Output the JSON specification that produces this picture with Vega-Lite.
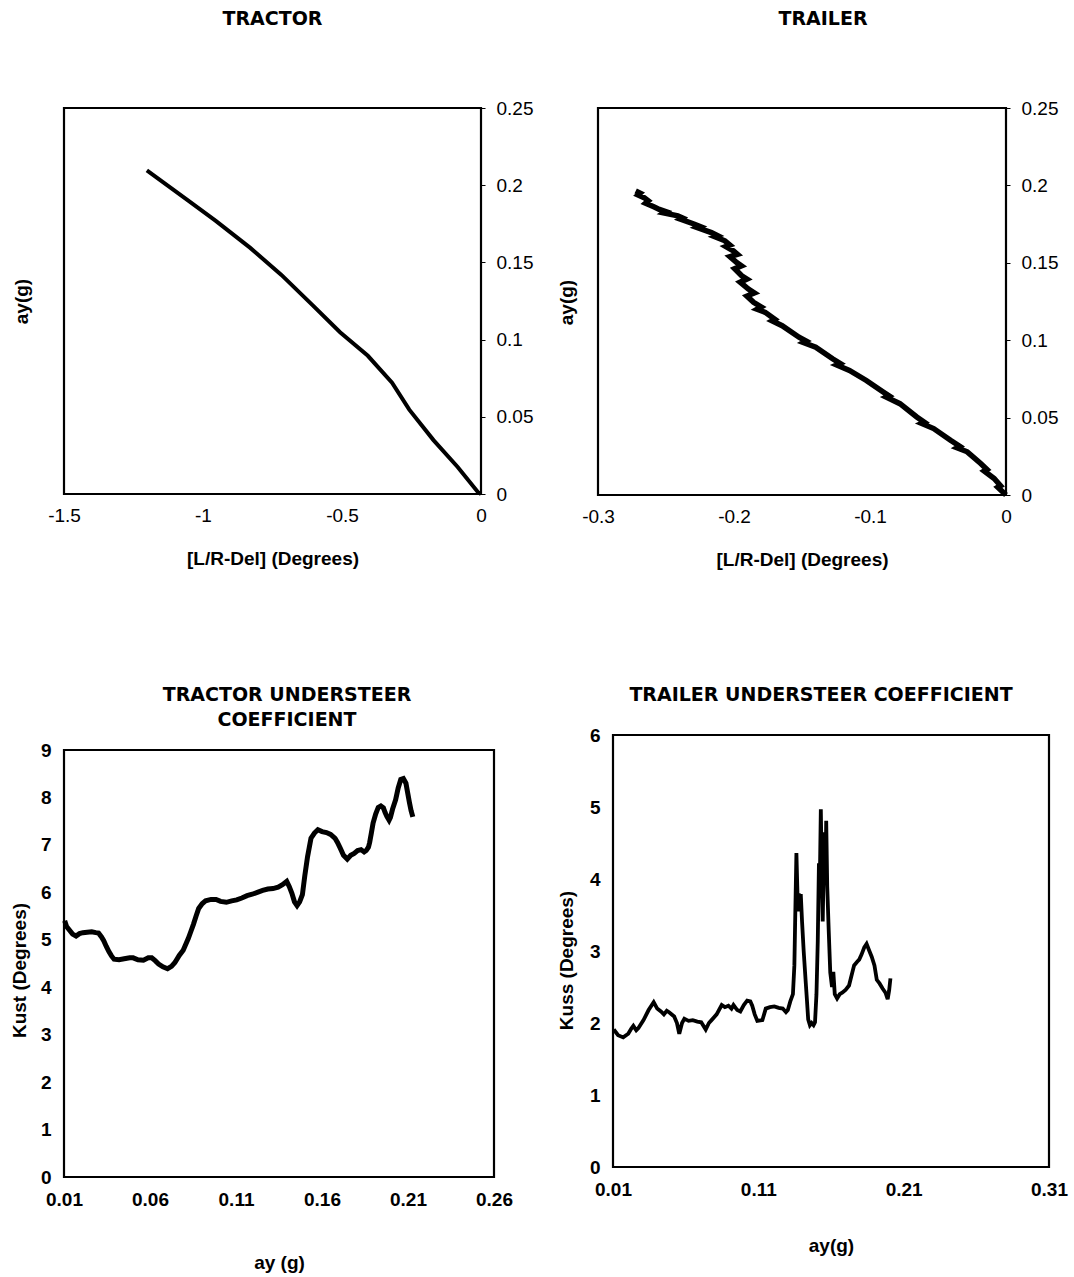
{
  "$schema": "https://vega.github.io/schema/vega-lite/v6.json",
  "background": "white",
  "padding": {"left": 8, "top": 8, "right": 0, "bottom": 0},
  "config": {
    "view": {"stroke": "black", "strokeWidth": 2.2},
    "font": "Liberation Sans",
    "axis": {
      "grid": false, "domain": false, "ticks": false,
      "labelFont": "Liberation Sans", "labelFontSize": 19, "labelColor": "black",
      "labelFlush": false, "labelOverlap": false,
      "titleFont": "Liberation Sans", "titleFontSize": 19, "titleFontWeight": "bold", "titleColor": "black"
    },
    "title": {"font": "DejaVu Sans", "fontSize": 19, "fontWeight": "bold", "color": "black", "anchor": "middle", "frame": "group"},
    "line": {"color": "black"}
  },
  "datasets": {
    "tractor": [
      {"del": -1.202, "ay": 0.2096}, {"del": -1.053, "ay": 0.190}, {"del": -0.954, "ay": 0.1769},
      {"del": -0.830, "ay": 0.1594}, {"del": -0.718, "ay": 0.1419}, {"del": -0.606, "ay": 0.1223},
      {"del": -0.507, "ay": 0.1048}, {"del": -0.407, "ay": 0.0895}, {"del": -0.320, "ay": 0.0721},
      {"del": -0.258, "ay": 0.0546}, {"del": -0.171, "ay": 0.0349}, {"del": -0.084, "ay": 0.0175},
      {"del": -0.010, "ay": 0.001}, {"del": 0, "ay": 0}
    ],
    "trailer": [
      {"i": 1, "del": -0.2723, "ay": 0.1964}, {"i": 2, "del": -0.2690, "ay": 0.1950}, {"i": 3, "del": -0.2705, "ay": 0.1938},
      {"i": 4, "del": -0.2661, "ay": 0.1921}, {"i": 5, "del": -0.2630, "ay": 0.1900}, {"i": 6, "del": -0.2650, "ay": 0.1885},
      {"i": 7, "del": -0.2590, "ay": 0.1862}, {"i": 8, "del": -0.2549, "ay": 0.1845}, {"i": 9, "del": -0.2500, "ay": 0.1830},
      {"i": 10, "del": -0.2515, "ay": 0.1822}, {"i": 11, "del": -0.2413, "ay": 0.1803}, {"i": 12, "del": -0.2380, "ay": 0.1790},
      {"i": 13, "del": -0.2395, "ay": 0.1782}, {"i": 14, "del": -0.2290, "ay": 0.1749}, {"i": 15, "del": -0.2250, "ay": 0.1735},
      {"i": 16, "del": -0.2270, "ay": 0.1728}, {"i": 17, "del": -0.2166, "ay": 0.1695}, {"i": 18, "del": -0.2120, "ay": 0.1675},
      {"i": 19, "del": -0.2140, "ay": 0.1668}, {"i": 20, "del": -0.2067, "ay": 0.1642}, {"i": 21, "del": -0.2030, "ay": 0.1615},
      {"i": 22, "del": -0.2060, "ay": 0.1605}, {"i": 23, "del": -0.2005, "ay": 0.1577}, {"i": 24, "del": -0.1975, "ay": 0.1555},
      {"i": 25, "del": -0.2030, "ay": 0.1540}, {"i": 26, "del": -0.1980, "ay": 0.1502}, {"i": 27, "del": -0.1945, "ay": 0.1480},
      {"i": 28, "del": -0.1995, "ay": 0.1462}, {"i": 29, "del": -0.1943, "ay": 0.1416}, {"i": 30, "del": -0.1905, "ay": 0.1395},
      {"i": 31, "del": -0.1955, "ay": 0.1375}, {"i": 32, "del": -0.1894, "ay": 0.1330}, {"i": 33, "del": -0.1850, "ay": 0.1305},
      {"i": 34, "del": -0.1905, "ay": 0.1285}, {"i": 35, "del": -0.1856, "ay": 0.1245}, {"i": 36, "del": -0.1800, "ay": 0.1215},
      {"i": 37, "del": -0.1830, "ay": 0.1200}, {"i": 38, "del": -0.1770, "ay": 0.1180}, {"i": 39, "del": -0.1700, "ay": 0.1135},
      {"i": 40, "del": -0.1720, "ay": 0.1125}, {"i": 41, "del": -0.1646, "ay": 0.1094}, {"i": 42, "del": -0.1522, "ay": 0.1019},
      {"i": 43, "del": -0.1470, "ay": 0.0995}, {"i": 44, "del": -0.1490, "ay": 0.0985}, {"i": 45, "del": -0.1399, "ay": 0.0955},
      {"i": 46, "del": -0.1275, "ay": 0.0880}, {"i": 47, "del": -0.1220, "ay": 0.0850}, {"i": 48, "del": -0.1245, "ay": 0.0840},
      {"i": 49, "del": -0.1151, "ay": 0.0805}, {"i": 50, "del": -0.1027, "ay": 0.0740}, {"i": 51, "del": -0.0903, "ay": 0.0665},
      {"i": 52, "del": -0.0860, "ay": 0.0640}, {"i": 53, "del": -0.0880, "ay": 0.0632}, {"i": 54, "del": -0.0780, "ay": 0.0590},
      {"i": 55, "del": -0.0656, "ay": 0.0504}, {"i": 56, "del": -0.0600, "ay": 0.0470}, {"i": 57, "del": -0.0620, "ay": 0.0462},
      {"i": 58, "del": -0.0532, "ay": 0.0429}, {"i": 59, "del": -0.0408, "ay": 0.0354}, {"i": 60, "del": -0.0340, "ay": 0.0315},
      {"i": 61, "del": -0.0360, "ay": 0.0305}, {"i": 62, "del": -0.0285, "ay": 0.0279}, {"i": 63, "del": -0.0186, "ay": 0.0204},
      {"i": 64, "del": -0.0140, "ay": 0.0165}, {"i": 65, "del": -0.0160, "ay": 0.0155}, {"i": 66, "del": -0.0087, "ay": 0.0107},
      {"i": 67, "del": -0.0040, "ay": 0.0060}, {"i": 68, "del": -0.0060, "ay": 0.0050}, {"i": 69, "del": -0.0025, "ay": 0.0021},
      {"i": 70, "del": 0, "ay": 0}
    ],
    "kust": [
      {"ay": 0.0104, "k": 5.40}, {"ay": 0.0115, "k": 5.28}, {"ay": 0.0130, "k": 5.21}, {"ay": 0.0150, "k": 5.12},
      {"ay": 0.0170, "k": 5.08}, {"ay": 0.0190, "k": 5.13}, {"ay": 0.0210, "k": 5.15}, {"ay": 0.0235, "k": 5.16},
      {"ay": 0.0261, "k": 5.17}, {"ay": 0.0285, "k": 5.15}, {"ay": 0.0301, "k": 5.14}, {"ay": 0.0318, "k": 5.06},
      {"ay": 0.0331, "k": 4.98}, {"ay": 0.0346, "k": 4.86}, {"ay": 0.0361, "k": 4.75}, {"ay": 0.0376, "k": 4.66},
      {"ay": 0.0391, "k": 4.59}, {"ay": 0.0420, "k": 4.58}, {"ay": 0.0450, "k": 4.60}, {"ay": 0.0482, "k": 4.62},
      {"ay": 0.0502, "k": 4.62}, {"ay": 0.0530, "k": 4.58}, {"ay": 0.0562, "k": 4.57}, {"ay": 0.0590, "k": 4.62},
      {"ay": 0.0610, "k": 4.62}, {"ay": 0.0630, "k": 4.56}, {"ay": 0.0650, "k": 4.49}, {"ay": 0.0675, "k": 4.43},
      {"ay": 0.0702, "k": 4.39}, {"ay": 0.0725, "k": 4.44}, {"ay": 0.0745, "k": 4.52}, {"ay": 0.0770, "k": 4.67},
      {"ay": 0.0793, "k": 4.78}, {"ay": 0.0810, "k": 4.92}, {"ay": 0.0823, "k": 5.03}, {"ay": 0.0838, "k": 5.18},
      {"ay": 0.0853, "k": 5.33}, {"ay": 0.0868, "k": 5.50}, {"ay": 0.0883, "k": 5.66}, {"ay": 0.0903, "k": 5.76},
      {"ay": 0.0923, "k": 5.82}, {"ay": 0.0955, "k": 5.85}, {"ay": 0.0984, "k": 5.85}, {"ay": 0.1010, "k": 5.81},
      {"ay": 0.1044, "k": 5.79}, {"ay": 0.1075, "k": 5.82}, {"ay": 0.1104, "k": 5.84}, {"ay": 0.1134, "k": 5.88},
      {"ay": 0.1164, "k": 5.93}, {"ay": 0.1194, "k": 5.96}, {"ay": 0.1224, "k": 6.00}, {"ay": 0.1255, "k": 6.04},
      {"ay": 0.1285, "k": 6.07}, {"ay": 0.1315, "k": 6.08}, {"ay": 0.1345, "k": 6.11}, {"ay": 0.1370, "k": 6.16},
      {"ay": 0.1395, "k": 6.23}, {"ay": 0.1410, "k": 6.12}, {"ay": 0.1425, "k": 5.98}, {"ay": 0.1440, "k": 5.80},
      {"ay": 0.1455, "k": 5.72}, {"ay": 0.1470, "k": 5.80}, {"ay": 0.1486, "k": 5.95}, {"ay": 0.1500, "k": 6.35},
      {"ay": 0.1516, "k": 6.75}, {"ay": 0.1536, "k": 7.14}, {"ay": 0.1556, "k": 7.25}, {"ay": 0.1576, "k": 7.32},
      {"ay": 0.1600, "k": 7.28}, {"ay": 0.1626, "k": 7.26}, {"ay": 0.1650, "k": 7.22}, {"ay": 0.1676, "k": 7.14},
      {"ay": 0.1690, "k": 7.05}, {"ay": 0.1706, "k": 6.93}, {"ay": 0.1725, "k": 6.78}, {"ay": 0.1747, "k": 6.70},
      {"ay": 0.1767, "k": 6.78}, {"ay": 0.1787, "k": 6.82}, {"ay": 0.1807, "k": 6.88}, {"ay": 0.1827, "k": 6.90},
      {"ay": 0.1845, "k": 6.85}, {"ay": 0.1857, "k": 6.88}, {"ay": 0.1870, "k": 6.95}, {"ay": 0.1877, "k": 7.05},
      {"ay": 0.1887, "k": 7.25}, {"ay": 0.1897, "k": 7.46}, {"ay": 0.1912, "k": 7.65}, {"ay": 0.1927, "k": 7.79},
      {"ay": 0.1942, "k": 7.82}, {"ay": 0.1957, "k": 7.78}, {"ay": 0.1967, "k": 7.68}, {"ay": 0.1977, "k": 7.60},
      {"ay": 0.1990, "k": 7.52}, {"ay": 0.1998, "k": 7.58}, {"ay": 0.2010, "k": 7.75}, {"ay": 0.2028, "k": 7.95},
      {"ay": 0.2043, "k": 8.20}, {"ay": 0.2058, "k": 8.38}, {"ay": 0.2073, "k": 8.40}, {"ay": 0.2088, "k": 8.30},
      {"ay": 0.2098, "k": 8.10}, {"ay": 0.2108, "k": 7.90}, {"ay": 0.2118, "k": 7.72}, {"ay": 0.2128, "k": 7.59}
    ],
    "kuss": [
      {"ay": 0.0105, "k": 1.91}, {"ay": 0.0135, "k": 1.83}, {"ay": 0.0170, "k": 1.80}, {"ay": 0.0205, "k": 1.85},
      {"ay": 0.0225, "k": 1.92}, {"ay": 0.0240, "k": 1.96}, {"ay": 0.0260, "k": 1.90}, {"ay": 0.0275, "k": 1.93},
      {"ay": 0.0310, "k": 2.04}, {"ay": 0.0345, "k": 2.18}, {"ay": 0.0380, "k": 2.29}, {"ay": 0.0404, "k": 2.20},
      {"ay": 0.0430, "k": 2.16}, {"ay": 0.0450, "k": 2.12}, {"ay": 0.0470, "k": 2.17}, {"ay": 0.0486, "k": 2.15},
      {"ay": 0.0521, "k": 2.09}, {"ay": 0.0540, "k": 2.00}, {"ay": 0.0556, "k": 1.85}, {"ay": 0.0575, "k": 2.00},
      {"ay": 0.0591, "k": 2.06}, {"ay": 0.0620, "k": 2.03}, {"ay": 0.0649, "k": 2.04}, {"ay": 0.0680, "k": 2.02},
      {"ay": 0.0707, "k": 2.01}, {"ay": 0.0738, "k": 1.91}, {"ay": 0.0760, "k": 2.00}, {"ay": 0.0778, "k": 2.04},
      {"ay": 0.0813, "k": 2.12}, {"ay": 0.0848, "k": 2.25}, {"ay": 0.0870, "k": 2.22}, {"ay": 0.0894, "k": 2.24},
      {"ay": 0.0915, "k": 2.20}, {"ay": 0.0929, "k": 2.25}, {"ay": 0.0955, "k": 2.18}, {"ay": 0.0976, "k": 2.16},
      {"ay": 0.1000, "k": 2.25}, {"ay": 0.1023, "k": 2.31}, {"ay": 0.1045, "k": 2.30}, {"ay": 0.1058, "k": 2.24},
      {"ay": 0.1075, "k": 2.12}, {"ay": 0.1093, "k": 2.03}, {"ay": 0.1128, "k": 2.04}, {"ay": 0.1151, "k": 2.20},
      {"ay": 0.1180, "k": 2.22}, {"ay": 0.1210, "k": 2.23}, {"ay": 0.1240, "k": 2.21}, {"ay": 0.1268, "k": 2.20},
      {"ay": 0.1290, "k": 2.15}, {"ay": 0.1303, "k": 2.18}, {"ay": 0.1320, "k": 2.30}, {"ay": 0.1338, "k": 2.40},
      {"ay": 0.1348, "k": 2.80}, {"ay": 0.1355, "k": 3.60}, {"ay": 0.1362, "k": 4.36}, {"ay": 0.1368, "k": 3.90},
      {"ay": 0.1372, "k": 3.55}, {"ay": 0.1378, "k": 3.80}, {"ay": 0.1385, "k": 3.70}, {"ay": 0.1392, "k": 3.79},
      {"ay": 0.1401, "k": 3.40}, {"ay": 0.1412, "k": 3.00}, {"ay": 0.1425, "k": 2.60}, {"ay": 0.1435, "k": 2.30},
      {"ay": 0.1443, "k": 2.05}, {"ay": 0.1455, "k": 1.97}, {"ay": 0.1467, "k": 2.00}, {"ay": 0.1480, "k": 1.97},
      {"ay": 0.1490, "k": 2.01}, {"ay": 0.1500, "k": 2.40}, {"ay": 0.1509, "k": 3.14}, {"ay": 0.1517, "k": 4.22},
      {"ay": 0.1522, "k": 3.80}, {"ay": 0.1530, "k": 4.97}, {"ay": 0.1537, "k": 4.00}, {"ay": 0.1543, "k": 3.41},
      {"ay": 0.1550, "k": 4.20}, {"ay": 0.1556, "k": 4.65}, {"ay": 0.1562, "k": 4.00}, {"ay": 0.1567, "k": 4.81},
      {"ay": 0.1574, "k": 3.90}, {"ay": 0.1584, "k": 3.30}, {"ay": 0.1595, "k": 2.70}, {"ay": 0.1607, "k": 2.50},
      {"ay": 0.1616, "k": 2.71}, {"ay": 0.1626, "k": 2.40}, {"ay": 0.1642, "k": 2.34}, {"ay": 0.1660, "k": 2.40},
      {"ay": 0.1677, "k": 2.42}, {"ay": 0.1700, "k": 2.46}, {"ay": 0.1724, "k": 2.52}, {"ay": 0.1740, "k": 2.65},
      {"ay": 0.1759, "k": 2.80}, {"ay": 0.1780, "k": 2.85}, {"ay": 0.1794, "k": 2.88}, {"ay": 0.1810, "k": 2.95},
      {"ay": 0.1829, "k": 3.05}, {"ay": 0.1845, "k": 3.10}, {"ay": 0.1864, "k": 3.00}, {"ay": 0.1880, "k": 2.92},
      {"ay": 0.1899, "k": 2.80}, {"ay": 0.1915, "k": 2.60}, {"ay": 0.1934, "k": 2.55}, {"ay": 0.1955, "k": 2.48},
      {"ay": 0.1975, "k": 2.42}, {"ay": 0.1990, "k": 2.33}, {"ay": 0.2000, "k": 2.45}, {"ay": 0.2009, "k": 2.62}
    ]
  },
  "columns": 2,
  "align": "none",
  "spacing": {"row": 113, "column": 20},
  "concat": [
    {
      "title": {"text": "TRACTOR", "offset": 70, "dx": 0},
      "width": 417, "height": 386,
      "data": {"name": "tractor"},
      "mark": {"type": "line", "strokeWidth": 4, "color": "black"},
      "encoding": {
        "x": {
          "field": "del", "type": "quantitative",
          "scale": {"domain": [-1.5, 0], "nice": false, "zero": false},
          "axis": {"values": [-1.5, -1, -0.5, 0], "labelExpr": "'' + datum.value", "labelPadding": 12,
                   "title": "[L/R-Del] (Degrees)", "titleY": 64, "titleBaseline": "middle"}
        },
        "y": {
          "field": "ay", "type": "quantitative",
          "scale": {"domain": [0, 0.25], "nice": false},
          "axis": {"orient": "right", "values": [0, 0.05, 0.1, 0.15, 0.2, 0.25], "labelExpr": "'' + datum.value",
                   "ticks": true, "tickSize": 4, "tickColor": "black", "labelPadding": 11,
                   "title": "ay(g)", "titleAngle": 270, "titleX": -460, "titleY": 193,
                   "titleBaseline": "middle", "titleAlign": "center"}
        }
      }
    },
    {
      "title": {"text": "TRAILER", "offset": 70, "dx": 21},
      "width": 408, "height": 387,
      "data": {"name": "trailer"},
      "mark": {"type": "line", "strokeWidth": 5.5, "color": "black", "strokeJoin": "miter"},
      "encoding": {
        "x": {
          "field": "del", "type": "quantitative",
          "scale": {"domain": [-0.3, 0], "nice": false, "zero": false},
          "axis": {"values": [-0.3, -0.2, -0.1, 0], "labelExpr": "'' + datum.value", "labelPadding": 12,
                   "title": "[L/R-Del] (Degrees)", "titleY": 64, "titleBaseline": "middle"}
        },
        "y": {
          "field": "ay", "type": "quantitative",
          "scale": {"domain": [0, 0.25], "nice": false},
          "axis": {"orient": "right", "values": [0, 0.05, 0.1, 0.15, 0.2, 0.25], "labelExpr": "'' + datum.value",
                   "ticks": true, "tickSize": 4, "tickColor": "black", "labelPadding": 11,
                   "title": "ay(g)", "titleAngle": 270, "titleX": -440, "titleY": 194,
                   "titleBaseline": "middle", "titleAlign": "center"}
        },
        "order": {"field": "i", "type": "quantitative"}
      }
    },
    {
      "title": {"text": ["TRACTOR UNDERSTEER", "COEFFICIENT"], "offset": 11, "dx": 8, "lineHeight": 25},
      "width": 430, "height": 427,
      "data": {"name": "kust"},
      "mark": {"type": "line", "strokeWidth": 5, "color": "black"},
      "encoding": {
        "x": {
          "field": "ay", "type": "quantitative",
          "scale": {"domain": [0.01, 0.26], "nice": false, "zero": false},
          "axis": {"values": [0.01, 0.06, 0.11, 0.16, 0.21, 0.26], "labelExpr": "'' + datum.value",
                   "labelFontWeight": "bold", "labelPadding": 13,
                   "title": "ay (g)", "titleY": 85, "titleBaseline": "middle"}
        },
        "y": {
          "field": "k", "type": "quantitative",
          "scale": {"domain": [0, 9], "nice": false},
          "axis": {"values": [0, 1, 2, 3, 4, 5, 6, 7, 8, 9], "labelFontWeight": "bold", "labelPadding": 13,
                   "title": "Kust (Degrees)", "titleAngle": 270, "titleX": -45, "titleY": 220,
                   "titleBaseline": "middle", "titleAlign": "center"}
        }
      }
    },
    {
      "title": {"text": "TRAILER UNDERSTEER COEFFICIENT", "offset": 21, "dx": -10},
      "width": 436, "height": 432,
      "data": {"name": "kuss"},
      "mark": {"type": "line", "strokeWidth": 3.8, "color": "black"},
      "encoding": {
        "x": {
          "field": "ay", "type": "quantitative",
          "scale": {"domain": [0.01, 0.31], "nice": false, "zero": false},
          "axis": {"values": [0.01, 0.11, 0.21, 0.31], "labelExpr": "'' + datum.value",
                   "labelFontWeight": "bold", "labelPadding": 13,
                   "title": "ay(g)", "titleY": 78, "titleBaseline": "middle"}
        },
        "y": {
          "field": "k", "type": "quantitative",
          "scale": {"domain": [0, 6], "nice": false},
          "axis": {"values": [0, 1, 2, 3, 4, 5, 6], "labelFontWeight": "bold", "labelPadding": 13,
                   "title": "Kuss (Degrees)", "titleAngle": 270, "titleX": -47, "titleY": 225,
                   "titleBaseline": "middle", "titleAlign": "center"}
        }
      }
    }
  ]
}
